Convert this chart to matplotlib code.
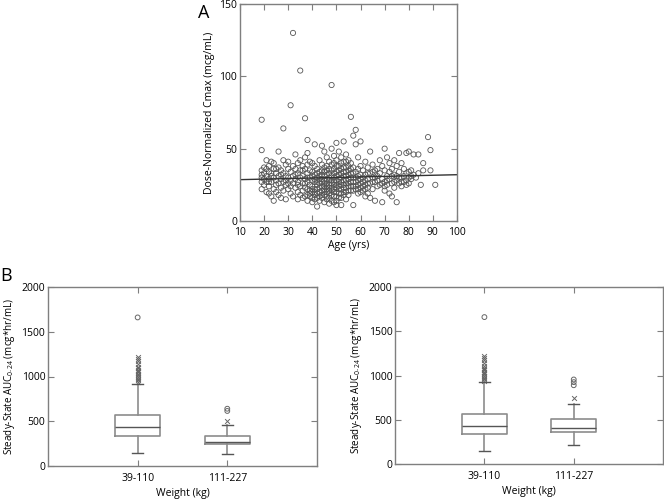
import numpy as np
import matplotlib
matplotlib.use('Agg')
import matplotlib.pyplot as plt

plt.rcParams['font.family'] = ['Open Sans', 'DejaVu Sans']
plt.rcParams['mathtext.fontset'] = 'custom'
plt.rcParams['mathtext.rm'] = 'Open Sans'
plt.rcParams['mathtext.default'] = 'regular'

# --- Panel A data: (age, dose-normalized Cmax) ---
points = [
    (19, 70), (19, 49), (19, 35), (19, 32), (19, 27), (19, 22), (19, 30), (20, 25), (20, 33), (20, 29),
    (21, 42), (21, 36), (21, 31), (21, 27), (21, 20), (22, 34), (22, 38), (22, 29), (22, 24), (22, 19),
    (23, 41), (23, 33), (23, 27), (23, 17), (24, 36), (24, 30), (24, 22), (24, 14), (24, 40), (25, 33),
    (25, 28), (25, 25), (25, 20), (26, 48), (26, 37), (26, 31), (26, 26), (26, 18), (27, 35), (27, 29),
    (27, 23), (27, 16), (28, 64), (28, 42), (28, 33), (28, 27), (28, 21), (29, 39), (29, 31), (29, 25),
    (29, 15), (30, 36), (30, 30), (30, 22), (30, 41), (31, 80), (31, 34), (31, 28), (31, 19), (32, 130),
    (32, 38), (32, 31), (32, 26), (32, 17), (33, 46), (33, 36), (33, 29), (33, 23), (34, 40), (34, 33),
    (34, 27), (34, 20), (34, 15), (35, 104), (35, 42), (35, 35), (35, 30), (35, 24), (35, 18), (36, 38),
    (36, 31), (36, 26), (36, 21), (36, 16), (37, 71), (37, 44), (37, 36), (37, 29), (37, 23), (37, 17),
    (38, 56), (38, 47), (38, 39), (38, 33), (38, 27), (38, 22), (38, 18), (38, 14), (39, 41), (39, 35),
    (39, 30), (39, 25), (39, 21), (39, 17), (40, 40), (40, 34), (40, 28), (40, 24), (40, 20), (40, 16),
    (40, 13), (41, 53), (41, 38), (41, 32), (41, 27), (41, 22), (41, 18), (41, 15), (42, 36), (42, 30),
    (42, 25), (42, 19), (42, 10), (43, 42), (43, 34), (43, 29), (43, 23), (43, 17), (43, 14), (44, 52),
    (44, 39), (44, 32), (44, 27), (44, 21), (44, 16), (45, 48), (45, 37), (45, 31), (45, 26), (45, 22),
    (45, 18), (45, 13), (46, 44), (46, 35), (46, 29), (46, 24), (46, 20), (46, 15), (47, 41), (47, 33),
    (47, 28), (47, 23), (47, 19), (47, 12), (48, 94), (48, 50), (48, 39), (48, 31), (48, 26), (48, 21),
    (48, 14), (49, 45), (49, 36), (49, 30), (49, 25), (49, 20), (49, 13), (50, 54), (50, 42), (50, 34),
    (50, 28), (50, 23), (50, 17), (50, 11), (51, 48), (51, 38), (51, 32), (51, 27), (51, 22), (51, 16),
    (52, 44), (52, 36), (52, 30), (52, 25), (52, 19), (52, 11), (53, 55), (53, 41), (53, 34), (53, 28),
    (53, 23), (53, 18), (54, 46), (54, 37), (54, 31), (54, 26), (54, 20), (54, 15), (55, 42), (55, 35),
    (55, 29), (55, 24), (55, 18), (56, 72), (56, 40), (56, 33), (56, 27), (56, 21), (57, 59), (57, 37),
    (57, 30), (57, 24), (57, 11), (58, 63), (58, 53), (58, 34), (58, 27), (58, 22), (59, 44), (59, 31),
    (59, 25), (59, 19), (60, 55), (60, 38), (60, 29), (60, 23), (61, 35), (61, 27), (61, 21), (62, 41),
    (62, 32), (62, 25), (62, 17), (63, 37), (63, 29), (63, 23), (64, 48), (64, 33), (64, 26), (64, 16),
    (65, 39), (65, 30), (65, 22), (66, 35), (66, 27), (66, 14), (67, 31), (67, 24), (68, 42), (68, 33),
    (68, 25), (69, 38), (69, 29), (69, 13), (70, 50), (70, 35), (70, 27), (70, 21), (71, 44), (71, 31),
    (71, 25), (72, 40), (72, 29), (72, 19), (73, 36), (73, 26), (73, 17), (74, 42), (74, 32), (74, 23),
    (75, 38), (75, 28), (75, 13), (76, 47), (76, 34), (76, 26), (77, 40), (77, 30), (77, 24), (78, 36),
    (78, 27), (79, 47), (79, 33), (79, 25), (80, 48), (80, 30), (80, 26), (81, 35), (81, 29), (82, 46),
    (82, 32), (84, 46), (85, 25), (86, 40), (86, 35), (88, 58), (89, 49), (89, 35), (91, 25),
    (20, 37), (22, 27), (23, 31), (25, 36), (27, 32), (29, 28), (30, 26), (31, 24), (33, 32), (34, 25),
    (36, 35), (37, 26), (38, 30), (39, 19), (40, 31), (40, 22), (41, 29), (41, 20), (42, 33), (42, 27),
    (42, 22), (42, 16), (43, 31), (43, 26), (43, 20), (44, 35), (44, 29), (44, 24), (44, 18), (45, 34),
    (45, 28), (45, 24), (45, 20), (46, 38), (46, 32), (46, 26), (46, 22), (46, 17), (47, 36), (47, 30),
    (47, 25), (47, 21), (47, 16), (48, 35), (48, 28), (48, 23), (48, 18), (49, 40), (49, 33), (49, 27),
    (49, 22), (49, 17), (50, 38), (50, 31), (50, 25), (50, 20), (50, 14), (51, 35), (51, 29), (51, 24),
    (51, 19), (52, 40), (52, 33), (52, 27), (52, 22), (52, 16), (53, 37), (53, 31), (53, 25), (53, 20),
    (54, 41), (54, 34), (54, 28), (54, 23), (55, 38), (55, 32), (55, 26), (55, 21), (56, 36), (56, 30),
    (56, 24), (57, 33), (57, 27), (57, 21), (58, 30), (58, 24), (59, 36), (59, 28), (59, 22), (60, 32),
    (60, 26), (60, 20), (61, 30), (61, 24), (62, 28), (62, 22), (63, 33), (63, 26), (63, 19), (65, 27),
    (65, 34), (66, 30), (67, 28), (67, 36), (69, 26), (70, 24), (71, 28), (72, 34), (73, 31), (74, 27),
    (75, 31), (76, 30), (77, 27), (78, 31), (79, 28), (80, 34), (81, 31), (83, 30), (84, 33),
]
age = np.array([p[0] for p in points])
cmax = np.array([p[1] for p in points])

# regression line
fit_intercept = 28.2
fit_slope = 0.038
fit_x = np.array([10, 100])

# --- Panel B data: box statistics ---
groups = ['39-110', '111-227']
# left panel
left_stats = [
    dict(whislo=145, q1=331, med=432, q3=566, whishi=920),
    dict(whislo=138, q1=242, med=268, q3=330, whishi=462),
]
left_mild = [[940, 960, 975, 990, 1000, 1015, 1030, 1045, 1060, 1075, 1090, 1110, 1140, 1170, 1195, 1220], [503]]
left_extreme = [[1660], [615, 640]]
# right panel
right_stats = [
    dict(whislo=143, q1=334, med=432, q3=567, whishi=930),
    dict(whislo=210, q1=360, med=405, q3=503, whishi=683),
]
right_mild = [[940, 960, 975, 990, 1000, 1015, 1030, 1045, 1060, 1075, 1090, 1110, 1140, 1170, 1195, 1220], [745]]
right_extreme = [[1660], [890, 925, 955]]

fig = plt.figure(figsize=(6.64, 5), dpi=100)
spine_col = '#7f7f7f'
fs = 7.5


def style_axes(ax):
    for s in ax.spines.values():
        s.set_color(spine_col)
        s.set_linewidth(1.0)
    ax.tick_params(direction='in', top=True, right=True, length=4, color=spine_col,
                   labelsize=fs, pad=2)


# --- Panel A ---
axA = fig.add_axes([0.3614, 0.558, 0.3268, 0.434])
axA.scatter(age, cmax, s=14, facecolors='none', edgecolors='#555555', linewidths=0.6)
axA.plot(fit_x, fit_intercept + fit_slope * fit_x, color='#333333', lw=1.0)
axA.set_xlim(10, 100)
axA.set_ylim(0, 150)
axA.set_xticks(np.arange(10, 101, 10))
axA.set_yticks([0, 50, 100, 150])
axA.set_xlabel('Age (yrs)', fontsize=fs, labelpad=2)
axA.set_ylabel('Dose-Normalized Cmax (mcg/mL)', fontsize=fs, labelpad=3)
style_axes(axA)
axA.tick_params(axis='x', pad=4)
fig.text(0.298, 0.975, 'A', fontsize=13, va='center', ha='left')


def draw_box(ax, stats, mild, extreme):
    ax.bxp(stats, positions=[1, 2], widths=0.5, showfliers=False,
           boxprops=dict(color='#8c8c8c', lw=1.2),
           medianprops=dict(color='#555555', lw=1.0),
           whiskerprops=dict(color='#8c8c8c', lw=1.2),
           capprops=dict(color='#555555', lw=1.0), capwidths=0.12)
    for i, (m, e) in enumerate(zip(mild, extreme)):
        ax.scatter([i + 1] * len(m), m, marker='x', s=12, color='#666666', linewidths=0.7)
        ax.scatter([i + 1] * len(e), e, marker='o', s=12, facecolors='none',
                   edgecolors='#666666', linewidths=0.7)
    ax.set_xlim(0, 3)
    ax.set_ylim(0, 2000)
    ax.set_xticks([1, 2])
    ax.set_xticklabels(groups)
    ax.set_yticks([0, 500, 1000, 1500, 2000])
    ax.set_xlabel('Weight (kg)', fontsize=fs, labelpad=3)
    ax.set_ylabel('Steady-State AUC$_{0\u201024}$ (mcg*hr/mL)', fontsize=7.1, labelpad=3)
    style_axes(ax)
    ax.tick_params(axis='x', pad=5)


axB1 = fig.add_axes([0.0723, 0.068, 0.405, 0.358])
draw_box(axB1, left_stats, left_mild, left_extreme)
axB2 = fig.add_axes([0.595, 0.072, 0.4036, 0.354])
draw_box(axB2, right_stats, right_mild, right_extreme)
fig.text(0.0, 0.448, 'B', fontsize=13, va='center', ha='left')

fig.savefig('out.png', dpi=100)
